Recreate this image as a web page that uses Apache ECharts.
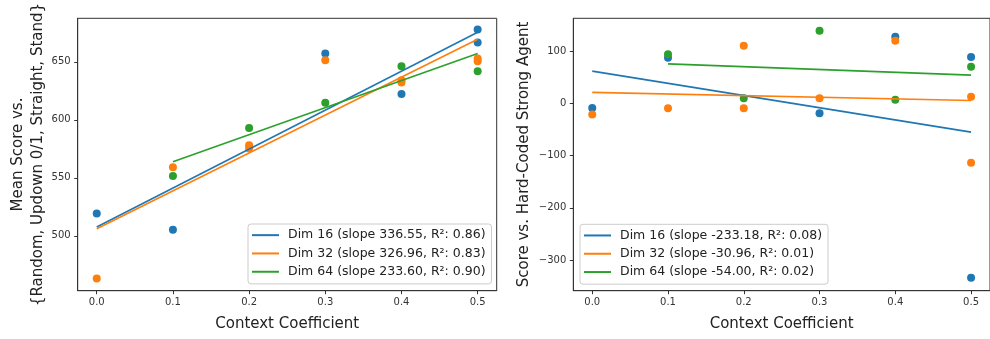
<!DOCTYPE html>
<html>
<head>
<meta charset="utf-8">
<script src="https://cdn.jsdelivr.net/npm/echarts@6/dist/echarts.min.js"></script>
<style>
html,body{margin:0;padding:0;background:#fff;}
#chart{width:990px;height:339px;}
</style>
</head>
<body>
<div id="chart"></div>
<script>
// ---- Data ----
const xTicks = [0, 0.1, 0.2, 0.3, 0.4, 0.5];
const leftYTicks = [500, 550, 600, 650];
const rightYTicks = [-300, -200, -100, 0, 100];

const leftLegend = [
  'Dim 16 (slope 336.55, R\u00b2: 0.86)',
  'Dim 32 (slope 326.96, R\u00b2: 0.83)',
  'Dim 64 (slope 233.60, R\u00b2: 0.90)'
];
const rightLegend = [
  'Dim 16 (slope -233.18, R\u00b2: 0.08)',
  'Dim 32 (slope -30.96, R\u00b2: 0.01)',
  'Dim 64 (slope -54.00, R\u00b2: 0.02)'
];

// Left panel: mean score
const leftX16 = [0, 0.1, 0.3, 0.4, 0.5, 0.5];
const leftY16 = [519.3, 505.2, 657.2, 622.4, 677.9, 666.7];
const leftX32 = [0, 0.1, 0.2, 0.2, 0.3, 0.4, 0.4, 0.5, 0.5];
const leftY32 = [463.3, 559.2, 578.2, 575.3, 651.5, 634.2, 632.2, 652.9, 650.6];
const leftX64 = [0.1, 0.2, 0.3, 0.4, 0.5];
const leftY64 = [551.7, 593.1, 614.7, 646.3, 642.0];
// fitted line end points
const leftFitX16 = [0, 0.5], leftFitY16 = [507.6, 675.5];
const leftFitX32 = [0, 0.5], leftFitY32 = [506.2, 669.6];
const leftFitX64 = [0.1, 0.5], leftFitY64 = [563.8, 657.2];

// Right panel: score vs hard-coded strong agent
const rightX16 = [0, 0.1, 0.3, 0.4, 0.5, 0.5];
const rightY16 = [-8.8, 87.3, -19.0, 127.2, 88.7, -333.4];
const rightX32 = [0, 0.1, 0.2, 0.2, 0.3, 0.4, 0.5, 0.5];
const rightY32 = [-21.5, -9.4, 110.1, -9.4, 9.5, 119.6, 12.7, -113.9];
const rightX64 = [0.1, 0.2, 0.3, 0.4, 0.5];
const rightY64 = [93.8, 9.5, 138.6, 7.0, 69.7];
const rightFitX16 = [0, 0.5], rightFitY16 = [61.5, -55.1];
const rightFitX32 = [0, 0.5], rightFitY32 = [20.9, 5.4];
const rightFitX64 = [0.1, 0.5], rightFitY64 = [75.4, 53.8];

// ---- Styling ----
const colors = ['#1f77b4', '#ff7f0e', '#2ca02c'];
const FONT = 'DejaVu Sans';
const zip = (xs, ys) => xs.map((x, i) => [x, ys[i]]);
const fmtNum = v => {
  const s = (Math.abs(v) < 1e-9 ? 0 : v).toString();
  return s.replace('-', '\u2212');
};

function xAxisCfg(gridIndex) {
  return {
    type: 'value', gridIndex: gridIndex, min: -0.025, max: 0.525,
    name: 'Context Coefficient', nameLocation: 'middle', nameGap: 26,
    nameTextStyle: {fontFamily: FONT, fontSize: 15, color: '#222'},
    axisLine: {onZero: false, lineStyle: {color: '#333', width: 1}},
    axisTick: {show: true, length: 3.5, lineStyle: {color: '#333'}, customValues: xTicks},
    axisLabel: {fontFamily: FONT, fontSize: 10, color: '#333', margin: 7,
      customValues: xTicks, formatter: v => v.toFixed(1)},
    splitLine: {show: false}
  };
}
function yAxisCfg(gridIndex, min, max, ticks, name, gap) {
  return {
    type: 'value', gridIndex: gridIndex, min: min, max: max,
    name: name, nameLocation: 'middle', nameGap: gap, nameRotate: 90,
    nameTextStyle: {fontFamily: FONT, fontSize: 15, color: '#222', lineHeight: 20},
    axisLine: {onZero: false, lineStyle: {color: '#333', width: 1}},
    axisTick: {show: true, length: 3.5, lineStyle: {color: '#333'}, customValues: ticks},
    axisLabel: {fontFamily: FONT, fontSize: 10, color: '#333', margin: 7,
      customValues: ticks, formatter: fmtNum},
    splitLine: {show: false}
  };
}

function scatter(name, xi, yi, xs, ys, c) {
  return {type: 'scatter', name: name, xAxisIndex: xi, yAxisIndex: yi,
    data: zip(xs, ys), symbolSize: 8, itemStyle: {color: c, opacity: 1}, z: 2};
}
function fit(name, xi, yi, xs, ys, c) {
  return {type: 'line', name: name, xAxisIndex: xi, yAxisIndex: yi,
    data: zip(xs, ys), showSymbol: false, symbol: 'none',
    lineStyle: {color: c, width: 1.6}, itemStyle: {color: c}, z: 3};
}

function legendCfg(left, top, names) {
  return {
    left: left, top: top, orient: 'vertical',
    data: names.map(n => ({name: n, icon: 'rect'})),
    itemWidth: 27, itemHeight: 2, itemGap: 2,
    padding: [3, 6, 4, 4],
    backgroundColor: '#fff', borderColor: '#ccc', borderWidth: 1, borderRadius: 3,
    textStyle: {fontFamily: FONT, fontSize: 12.5, color: '#222', lineHeight: 16.3, padding: [0, 0, 0, 4]},
    selectedMode: false
  };
}

const series = [
  scatter('L16p', 0, 0, leftX16, leftY16, colors[0]),
  fit(leftLegend[0], 0, 0, leftFitX16, leftFitY16, colors[0]),
  scatter('L32p', 0, 0, leftX32, leftY32, colors[1]),
  fit(leftLegend[1], 0, 0, leftFitX32, leftFitY32, colors[1]),
  scatter('L64p', 0, 0, leftX64, leftY64, colors[2]),
  fit(leftLegend[2], 0, 0, leftFitX64, leftFitY64, colors[2]),
  scatter('R16p', 1, 1, rightX16, rightY16, colors[0]),
  fit(rightLegend[0], 1, 1, rightFitX16, rightFitY16, colors[0]),
  scatter('R32p', 1, 1, rightX32, rightY32, colors[1]),
  fit(rightLegend[1], 1, 1, rightFitX32, rightFitY32, colors[1]),
  scatter('R64p', 1, 1, rightX64, rightY64, colors[2]),
  fit(rightLegend[2], 1, 1, rightFitX64, rightFitY64, colors[2])
];

const chart = echarts.init(document.getElementById('chart'), null, {renderer: 'canvas'});
chart.setOption({
  animation: false,
  backgroundColor: '#fff',
  grid: [
    {left: 77.7, top: 18.3, width: 419, height: 272.4, show: true, borderColor: '#333', borderWidth: 1, backgroundColor: 'transparent'},
    {left: 573.3, top: 18.3, width: 419.7, height: 272.4, show: true, borderColor: '#333', borderWidth: 1, backgroundColor: 'transparent'}
  ],
  xAxis: [xAxisCfg(0), xAxisCfg(1)],
  yAxis: [
    yAxisCfg(0, 452.7, 687.6, leftYTicks, 'Mean Score vs.\n{Random, Updown 0/1, Straight, Stand}', 28),
    yAxisCfg(1, -358.3, 162.5, rightYTicks, 'Score vs. Hard-Coded Strong Agent', 39)
  ],
  legend: [legendCfg(248, 224, leftLegend), legendCfg(580, 224.3, rightLegend)],
  series: series
});
</script>
</body>
</html>
